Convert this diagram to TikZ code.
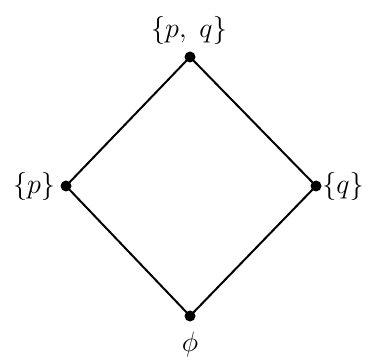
\documentclass[tikz,border=0pt]{standalone}
\begin{document}
\begin{tikzpicture}[x=1pt,y=1pt,
  vert/.style={circle,fill=black,inner sep=0pt,minimum size=11pt},
  edge/.style={line width=2pt},
  lab/.style={font=\fontsize{24}{28}\selectfont,inner sep=0pt,scale=1.13,transform shape}]
\useasboundingbox (0,0) rectangle (369,359);
\node[vert] (t) at (190,302) {};
\node[vert] (l) at (66,173) {};
\node[vert] (r) at (316,173) {};
\node[vert] (b) at (190,43) {};
\draw[edge] (t.center) -- (l.center) -- (b.center) -- (r.center) -- (t.center);
\node[lab] (lt) at (189,329) {$\{p,\ q\}$};
\node[lab] (ll) at (34,173) {$\{p\}$};
\node[lab] (lr) at (343,173) {$\{q\}$};
\node[lab] (lb) at (190,15) {$\phi$};
\end{tikzpicture}
\end{document}
